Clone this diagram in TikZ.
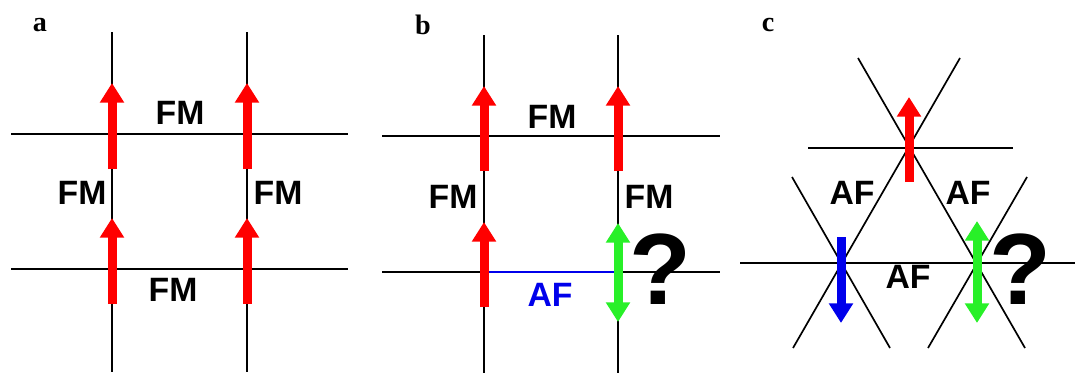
\documentclass[tikz,border=0pt]{standalone}
\usepackage{fontspec}
\setmainfont{Liberation Serif}
\setsansfont{Liberation Sans}
\usetikzlibrary{arrows.meta}
\definecolor{spinred}{RGB}{255,0,0}
\definecolor{spingreen}{RGB}{40,240,40}
\definecolor{spinblue}{RGB}{0,0,235}
\begin{document}
\begin{tikzpicture}[x=0.025cm, y=-0.025cm,
  bond/.style={line width=1.2pt},
  spin/.style={line width=6.4pt, -{Triangle[width=16.5pt,length=14pt]}},
  flip/.style={line width=6.4pt, {Triangle[width=16.5pt,length=14pt]}-{Triangle[width=16.5pt,length=14pt]}, spingreen},
  lab/.style={inner sep=0pt, font=\sffamily\bfseries\fontsize{24}{24}\selectfont},
  ques/.style={inner sep=0pt, font=\sffamily\bfseries\fontsize{72}{72}\selectfont},
  panel/.style={inner sep=0pt, font=\rmfamily\bfseries\fontsize{20}{20}\selectfont}]
  \useasboundingbox (0,0) rectangle (1075,375);
  % a
  \node[panel] (pa) at (40,25) {a};
  \draw[bond] (112,32) -- (112,372);
  \draw[bond] (247,32) -- (247,372);
  \draw[bond] (11,134) -- (348,134);
  \draw[bond] (11,269) -- (348,269);
  \foreach \x/\y in {112/134, 247/134, 112/269, 247/269}
    \draw[spin, spinred] (\x,\y+35) -- (\x,\y-51);
  \node[lab] (aTop) at (180,113) {FM};
  \node[lab] (aLeft) at (82,193) {FM};
  \node[lab] (aRight) at (278,193) {FM};
  \node[lab] (aBot) at (173,290) {FM};
  % b
  \node[panel] (pb) at (423,25) {b};
  \draw[bond] (484,35) -- (484,373);
  \draw[bond] (618,35) -- (618,373);
  \draw[bond] (382,136) -- (720,136);
  \draw[bond] (382,272) -- (720,272);
  \draw[bond, spinblue] (484,272) -- (618,272);
  \foreach \x/\y in {484/136, 618/136, 484/272}
    \draw[spin, spinred] (\x,\y+35) -- (\x,\y-50);
  \draw[flip] (618,223) -- (618,322);
  \node[lab] (bTop) at (552,117) {FM};
  \node[lab] (bLeft) at (453,197) {FM};
  \node[lab] (bRight) at (649,197) {FM};
  \node[lab, text=spinblue] (bBot) at (550,295) {AF};
  \node[ques] (bQ) at (660,269) {?};
  % c
  \node[panel] (pc) at (768,25) {c};
  \draw[bond] (808,148) -- (1013,148);
  \draw[bond] (740,263) -- (1075,263);
  \draw[bond] (858,58) -- (1025,348);
  \draw[bond] (960,58) -- (793,348);
  \draw[bond] (792,177) -- (890,348);
  \draw[bond] (1027,177) -- (928,348);
  \draw[spin, spinred] (909,182) -- (909,97);
  \draw[spin, spinblue] (841,237) -- (841,323);
  \draw[flip] (977,221) -- (977,323);
  \node[lab] (cLeft) at (852,193) {AF};
  \node[lab] (cRight) at (968,193) {AF};
  \node[lab] (cBot) at (908,277) {AF};
  \node[ques] (cQ) at (1020,269) {?};
\end{tikzpicture}
\end{document}
